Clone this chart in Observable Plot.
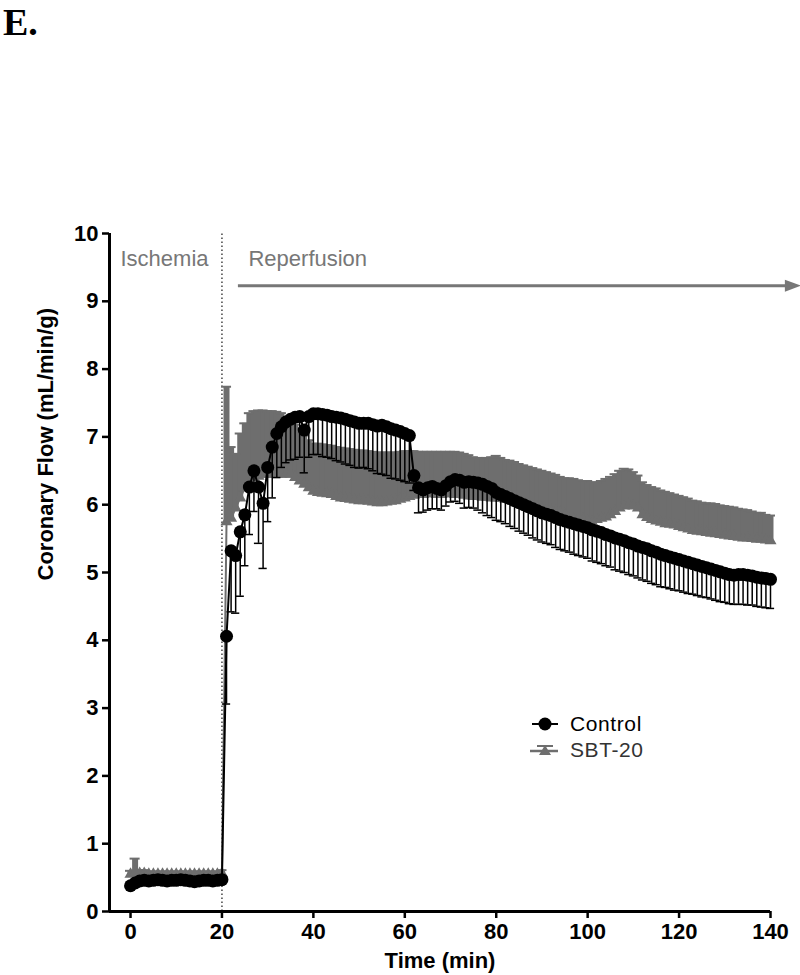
<!DOCTYPE html>
<html>
<head>
<meta charset="utf-8">
<script src="https://cdn.jsdelivr.net/npm/d3@7"></script>
<script src="https://cdn.jsdelivr.net/npm/@observablehq/plot@0.6"></script>
<style>
  html, body { margin: 0; padding: 0; background: #fff; }
  body { width: 800px; height: 975px; position: relative; overflow: hidden; font-family: "Liberation Sans", Arial, sans-serif; }
  #title { position: absolute; left: 3px; top: 0px; line-height: normal; font-family: "Liberation Serif", "Times New Roman", serif; font-weight: bold; font-size: 38px; color: #000; }
  #chart { position: absolute; left: 0; top: 0; }
  .leg { position: absolute; left: 528px; display: flex; align-items: center; font-size: 21px; letter-spacing: 0.6px; }
  .leg svg { margin-right: 10px; }
</style>
</head>
<body>
<div id="chart"></div>
<div id="title">E.</div>
<div class="leg" id="legC" style="top:711px"></div>
<div class="leg" id="legS" style="top:737px"></div>
<script>
// ---- data ----
const time = [0,1,2,3,4,5,6,7,8,9,10,11,12,13,14,15,16,17,18,19,20,
  21,22,23,24,25,26,27,28,29,30,31,32,33,34,35,36,37,38,39,40,
  41,42,43,44,45,46,47,48,49,50,51,52,53,54,55,56,57,58,59,60,
  61,62,63,64,65,66,67,68,69,70,71,72,73,74,75,76,77,78,79,80,
  81,82,83,84,85,86,87,88,89,90,91,92,93,94,95,96,97,98,99,100,
  101,102,103,104,105,106,107,108,109,110,111,112,113,114,115,116,117,118,119,120,
  121,122,123,124,125,126,127,128,129,130,131,132,133,134,135,136,137,138,139,140];

const controlMean = [0.38,0.42,0.45,0.46,0.45,0.46,0.47,0.46,0.45,0.46,0.46,0.47,0.46,0.45,0.44,0.45,0.46,0.46,0.45,0.46,0.47,
  4.06,5.32,5.25,5.60,5.85,6.26,6.50,6.26,6.02,6.55,
  6.85,7.05,7.15,7.22,7.26,7.29,7.30,7.10,7.30,7.34,
  7.34,7.33,7.32,7.30,7.29,7.28,7.26,7.24,7.22,7.20,
  7.20,7.20,7.18,7.16,7.17,7.15,7.12,7.10,7.08,7.05,
  7.02,6.43,6.25,6.22,6.25,6.27,6.24,6.22,6.28,6.34,
  6.37,6.36,6.33,6.34,6.33,6.32,6.30,6.27,6.24,6.18,
  6.15,6.12,6.09,6.06,6.03,6.00,5.97,5.94,5.91,5.88,
  5.86,5.84,5.81,5.78,5.76,5.74,5.72,5.70,5.68,5.66,
  5.63,5.61,5.59,5.56,5.54,5.51,5.49,5.47,5.44,5.42,
  5.39,5.37,5.35,5.32,5.30,5.27,5.25,5.23,5.21,5.19,
  5.17,5.15,5.13,5.11,5.09,5.07,5.05,5.03,5.01,4.99,
  4.97,4.96,4.97,4.97,4.96,4.95,4.93,4.92,4.91,4.90];

const controlErr = [0.06,0.05,0.04,0.04,0.04,0.04,0.04,0.04,0.04,0.04,0.04,0.04,0.04,0.04,0.04,0.04,0.04,0.04,0.04,0.04,0.05,
  1.00,0.90,0.85,0.95,0.75,0.70,0.60,0.83,0.96,0.80,
  0.75,0.65,0.60,0.60,0.60,0.62,0.60,0.63,0.60,0.60,
  0.60,0.62,0.62,0.62,0.64,0.65,0.66,0.66,0.67,0.66,
  0.65,0.67,0.68,0.70,0.72,0.72,0.73,0.72,0.72,0.71,
  0.70,0.22,0.37,0.33,0.33,0.33,0.30,0.30,0.30,0.30,
  0.32,0.34,0.38,0.38,0.38,0.40,0.42,0.43,0.43,0.41,
  0.40,0.40,0.41,0.41,0.42,0.42,0.42,0.43,0.43,0.43,
  0.43,0.43,0.44,0.44,0.44,0.44,0.45,0.45,0.45,0.45,
  0.46,0.46,0.46,0.46,0.46,0.47,0.47,0.47,0.47,0.47,
  0.47,0.48,0.48,0.48,0.48,0.48,0.47,0.47,0.47,0.46,
  0.46,0.46,0.45,0.45,0.45,0.44,0.44,0.44,0.44,0.43,
  0.43,0.43,0.44,0.44,0.44,0.43,0.43,0.43,0.43,0.43];

const sbtMean = [0.55,0.58,0.56,0.56,0.55,0.55,0.55,0.55,0.55,0.55,0.55,0.55,0.55,0.55,0.55,0.55,0.55,0.55,0.55,0.55,0.56,
  5.75,5.80,5.95,6.10,6.25,6.35,6.40,6.42,6.45,6.45,
  6.45,6.45,6.45,6.45,6.45,6.40,6.35,6.30,6.25,6.20,
  6.18,6.17,6.16,6.15,6.12,6.10,6.09,6.08,6.07,6.06,
  6.06,6.05,6.04,6.03,6.03,6.04,6.05,6.06,6.08,6.10,
  6.12,6.14,6.15,6.15,6.16,6.16,6.15,6.15,6.16,6.16,
  6.15,6.15,6.14,6.13,6.12,6.12,6.11,6.11,6.10,6.10,
  6.09,6.08,6.07,6.05,6.03,6.02,6.00,5.98,5.96,5.94,
  5.92,5.91,5.90,5.88,5.85,5.78,5.78,5.80,5.78,5.76,
  5.74,5.78,5.80,5.82,5.85,5.90,5.95,5.98,6.00,5.98,
  5.95,5.85,5.81,5.78,5.76,5.74,5.72,5.71,5.70,5.68,
  5.66,5.64,5.62,5.61,5.60,5.59,5.58,5.57,5.56,5.55,
  5.54,5.53,5.52,5.51,5.51,5.50,5.49,5.49,5.48,5.47];

const sbtErr = [0.05,0.20,0.05,0.05,0.04,0.04,0.04,0.04,0.04,0.04,0.04,0.04,0.04,0.04,0.04,0.04,0.04,0.04,0.04,0.04,0.05,
  1.99,1.05,0.80,0.95,0.95,1.00,0.98,0.97,0.94,0.93,
  0.93,0.92,0.90,0.85,0.80,0.78,0.76,0.72,0.70,0.70,
  0.72,0.72,0.72,0.72,0.73,0.74,0.74,0.74,0.74,0.74,
  0.74,0.74,0.74,0.74,0.74,0.73,0.72,0.71,0.70,0.69,
  0.67,0.65,0.63,0.63,0.62,0.62,0.63,0.63,0.62,0.62,
  0.63,0.62,0.61,0.60,0.58,0.57,0.57,0.58,0.60,0.62,
  0.60,0.58,0.58,0.58,0.57,0.56,0.56,0.56,0.56,0.56,
  0.56,0.55,0.54,0.53,0.54,0.61,0.60,0.56,0.57,0.59,
  0.59,0.55,0.55,0.56,0.56,0.55,0.55,0.55,0.52,0.50,
  0.48,0.48,0.48,0.48,0.48,0.47,0.47,0.46,0.45,0.45,
  0.45,0.45,0.44,0.44,0.43,0.43,0.44,0.44,0.43,0.43,
  0.43,0.43,0.42,0.42,0.41,0.40,0.39,0.39,0.37,0.37];

const xTicks = [0,20,40,60,80,100,120,140];
const yTicks = [0,1,2,3,4,5,6,7,8,9,10];
const seriesNames = ["Control","SBT-20"];
const phaseLabels = ["Ischemia","Reperfusion"];
const ischemiaEnd = 20;

// ---- build table ----
const table = time.map((t, i) => ({t, c: controlMean[i], ce: controlErr[i], s: sbtMean[i], se: sbtErr[i]}));
const GRAY = "#6e6e6e";
const FONT = "Liberation Sans, Arial, Helvetica, sans-serif";

// filled right-pointing arrowhead symbol
const arrowHead = {draw(ctx) { ctx.moveTo(8, 0); ctx.lineTo(-8, -6); ctx.lineTo(-8, 6); ctx.closePath(); }};

const chart = Plot.plot({
  width: 800,
  height: 975,
  marginTop: 233,
  marginBottom: 64,
  marginLeft: 109,
  marginRight: 30,
  style: {fontFamily: FONT, background: "#fff", overflow: "visible", color: "#000"},
  x: {domain: [-4.6, 140]},
  y: {domain: [0, 10]},
  marks: [
    // ischemia / reperfusion divider
    Plot.ruleX([ischemiaEnd], {y1: 0, y2: 10, stroke: "#444", strokeWidth: 1.5, strokeDasharray: "1.5,2.5"}),
    // SBT-20 (upward error bars)
    Plot.ruleX(table, {x: "t", y1: "s", y2: d => d.s + d.se, stroke: GRAY, strokeWidth: 6}),
    Plot.ruleY(table, {y: d => d.s + d.se, x1: d => d.t - 1.1, x2: d => d.t + 1.1, stroke: GRAY, strokeWidth: 2}),
    Plot.line(table, {x: "t", y: "s", stroke: GRAY, strokeWidth: 2}),
    Plot.dot(table, {x: "t", y: "s", symbol: "triangle", r: 4.5, fill: GRAY}),
    // Control (downward error bars)
    Plot.ruleX(table, {x: "t", y1: "c", y2: d => d.c - d.ce, stroke: "#000", strokeWidth: 1.5}),
    Plot.ruleY(table, {y: d => d.c - d.ce, x1: d => d.t - 0.9, x2: d => d.t + 0.9, stroke: "#000", strokeWidth: 1.5}),
    Plot.line(table, {x: "t", y: "c", stroke: "#000", strokeWidth: 2}),
    Plot.dot(table, {x: "t", y: "c", r: 6.5, fill: "#000"}),
    // axes
    Plot.ruleX([-4.6], {y1: 0, y2: 10, stroke: "#000", strokeWidth: 3}),
    Plot.ruleY([0], {x1: -4.6, x2: 140, stroke: "#000", strokeWidth: 3}),
    Plot.axisY(yTicks, {tickSize: 7, tickPadding: 4, strokeWidth: 2.5, fontSize: 22, fontWeight: "bold", label: null, tickFormat: d => String(d)}),
    Plot.axisX(xTicks, {tickSize: 7, tickPadding: 5, strokeWidth: 2.5, fontSize: 22, fontWeight: "bold", label: null, tickFormat: d => String(d)}),
    Plot.text(["Time (min)"], {frameAnchor: "bottom", dy: 49, fontSize: 22, fontWeight: "bold", letterSpacing: "1.5px", lineAnchor: "middle"}),
    Plot.text(["Coronary Flow (mL/min/g)"], {frameAnchor: "left", dx: -64, dy: 8, rotate: -90, fontSize: 22, fontWeight: "bold", lineAnchor: "middle"}),
    // phase annotations
    Plot.text([phaseLabels[0]], {x: -2.2, y: 9.63, textAnchor: "start", lineAnchor: "middle", fontSize: 22, fill: "#777", letterSpacing: "1px"}),
    Plot.text([phaseLabels[1]], {x: 25.8, y: 9.63, textAnchor: "start", lineAnchor: "middle", fontSize: 22, fill: "#777", letterSpacing: "1px"}),
    Plot.ruleY([9.23], {x1: 23.6, x2: 144, stroke: "#777", strokeWidth: 3}),
    Plot.dot([phaseLabels[1]], {x: 144.9, y: 9.23, symbol: arrowHead, fill: "#777", stroke: "none"})
  ]
});
document.getElementById("chart").appendChild(chart);

// ---- legend ----
document.getElementById("legC").innerHTML =
  `<svg width="32" height="26"><line x1="4" y1="13" x2="30" y2="13" stroke="#000" stroke-width="2"/><circle cx="17" cy="13" r="6.5" fill="#000"/></svg><span style="color:#000">${seriesNames[0]}</span>`;
document.getElementById("legS").innerHTML =
  `<svg width="32" height="26"><line x1="2" y1="14" x2="30" y2="14" stroke="${GRAY}" stroke-width="2.5"/><line x1="9" y1="9" x2="25" y2="9" stroke="${GRAY}" stroke-width="2"/><line x1="17" y1="9" x2="17" y2="14" stroke="${GRAY}" stroke-width="2"/><path d="M17,8 L23,18 L11,18 Z" fill="${GRAY}"/></svg><span style="color:#333">${seriesNames[1]}</span>`;
</script>
</body>
</html>
